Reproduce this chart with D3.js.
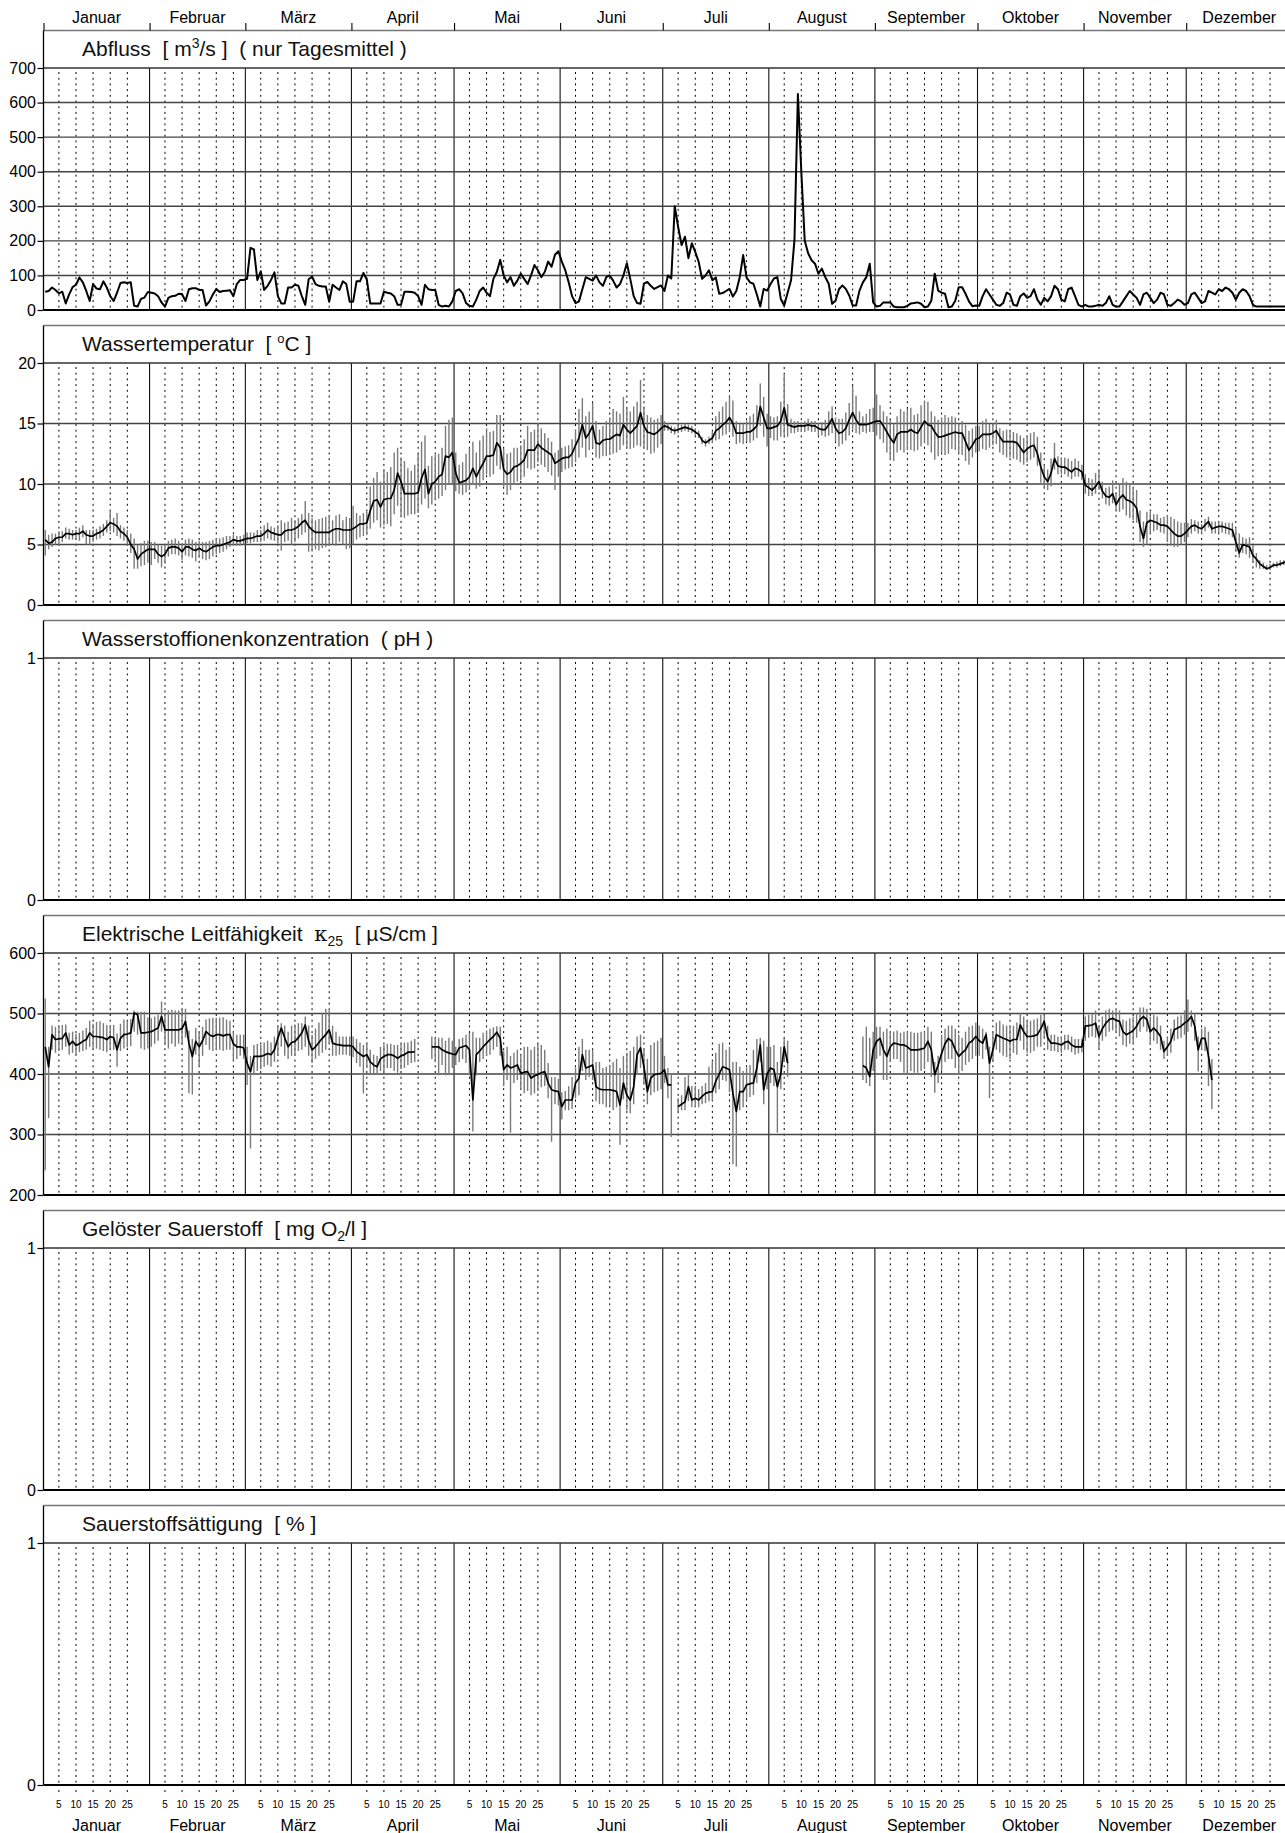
<!DOCTYPE html>
<html lang="de">
<head>
<meta charset="UTF-8">
<title>Gewässergüte Tageswerte</title>
<style>
  body { margin: 0; background: #fff; }
  svg { display: block; font-family: "Liberation Sans", Arial, Helvetica, sans-serif; }
</style>
</head>
<body>
<svg width="1285" height="1833"></svg>
<script src="https://cdn.jsdelivr.net/npm/d3@7/dist/d3.min.js"></script>
<script>

    var months = ["Januar", "Februar", "März", "April", "Mai", "Juni", "Juli",
                  "August", "September", "Oktober", "November", "Dezember"];
    var monthDays = [31, 28, 31, 30, 31, 30, 31, 31, 30, 31, 30, 31];
    var dayTicks = [5, 10, 15, 20, 25];

    var abflussTicks = [0, 100, 200, 300, 400, 500, 600, 700];
    var tempTicks = [0, 5, 10, 15, 20];
    var leitTicks = [200, 300, 400, 500, 600];
    var emptyTicks = [0, 1];

    // Abfluss, Tagesmittel m3/s
    var abfluss = [
        53,55,65,58,48,53,19,45,66,73,94,80,55,26,75,62,60,83,65,40,26,50,78,80,78,80,12,10,32,36,52,
        50,48,40,22,10,35,40,41,47,46,26,60,63,63,58,58,13,25,45,61,52,55,56,57,40,75,87,87,
        90,180,175,87,112,58,70,87,109,40,19,19,65,65,73,70,40,15,89,97,75,70,68,68,24,73,65,58,83,75,24,
        24,83,83,107,88,19,19,19,19,53,50,48,40,15,15,53,53,52,50,40,15,73,60,58,58,15,10,12,10,25,
        55,60,48,20,12,10,30,55,65,50,40,90,110,145,100,80,95,70,85,105,90,75,100,130,115,95,110,140,125,160,170,
        140,115,80,40,20,25,60,95,90,85,100,80,70,95,100,85,65,75,100,135,90,40,20,18,76,81,70,61,66,71,
        55,100,91,300,240,188,212,150,193,168,139,90,100,115,86,94,47,49,55,61,39,55,95,159,94,80,76,45,10,61,56,
        75,91,95,32,13,50,86,203,625,400,200,164,144,134,105,120,95,76,18,27,60,71,61,42,13,13,56,80,95,134,22,
        10,12,22,22,22,10,8,8,8,12,19,20,22,18,8,10,27,105,56,50,47,8,10,27,66,66,47,25,11,13,
        12,40,60,45,30,15,12,20,50,45,15,12,40,48,35,40,60,30,15,35,25,40,70,60,30,25,60,65,40,15,10,
        15,10,10,12,15,12,20,40,15,10,10,25,40,55,45,35,15,45,50,35,20,30,50,45,15,12,20,30,25,15,
        20,45,50,35,20,25,55,50,45,60,55,65,60,50,30,50,60,55,40,15,10,10,10,10,10,10,10,10,10,10,10
    ];

    // Wassertemperatur, Tagesmittel / Minimum / Maximum
    var tempMean = [
        5.4,5.1,5.2,5.5,5.6,5.6,5.9,5.9,5.8,5.9,5.9,6.1,5.8,5.7,5.7,5.9,6.0,6.2,6.5,6.8,6.7,6.5,6.1,5.9,5.6,5.0,4.6,3.8,4.2,4.4,4.6,
        4.6,4.6,4.2,4.0,4.2,4.7,4.8,4.8,4.7,4.4,4.8,4.8,4.6,4.5,4.7,4.5,4.4,4.6,4.8,4.9,4.9,5.0,5.1,5.2,5.4,5.3,5.3,5.4,
        5.5,5.5,5.6,5.7,5.7,5.9,6.2,6.0,5.9,5.8,5.8,6.1,6.2,6.2,6.3,6.5,6.8,7.0,6.5,6.2,6.0,6.0,6.0,6.0,6.0,6.2,6.3,6.3,6.2,6.2,6.2,
        6.3,6.5,6.7,6.7,6.8,7.8,8.6,8.7,8.1,8.7,8.8,8.8,9.5,10.9,10.2,9.2,9.2,9.2,9.2,9.3,10.5,11.2,9.2,10.0,10.2,10.6,10.8,12.3,12.2,12.6,
        10.9,10.1,10.2,10.3,10.6,11.3,10.6,11.2,11.7,12.3,12.3,12.4,13.4,13.0,11.2,10.8,11.0,11.4,11.5,11.7,12.0,12.8,12.8,12.8,13.3,13.0,12.8,12.6,12.4,11.7,11.9,
        12.1,12.2,12.2,12.5,13.2,13.8,14.9,13.8,14.2,14.8,13.4,13.3,13.6,13.7,13.7,13.9,14.1,14.0,14.9,14.5,14.2,14.5,14.8,15.9,14.8,14.3,14.2,14.1,14.3,14.6,
        14.8,14.7,14.5,14.4,14.5,14.6,14.7,14.6,14.5,14.3,14.1,13.6,13.4,13.6,13.8,14.4,14.6,14.9,15.1,15.5,15.0,14.2,14.2,14.2,14.3,14.3,14.5,14.8,16.4,15.5,14.6,
        14.6,14.7,14.8,15.2,16.3,14.9,14.8,14.7,14.8,14.8,14.8,14.9,14.8,14.8,14.6,14.5,14.5,14.9,15.4,14.6,14.2,14.3,14.6,15.3,15.9,15.3,14.9,14.9,14.9,15.0,15.1,
        15.2,15.2,14.8,14.3,13.8,13.4,14.1,14.3,14.3,14.3,14.5,14.3,14.2,14.7,15.2,14.9,14.8,14.3,13.9,13.9,14.0,14.1,14.2,14.3,14.2,14.2,13.5,12.8,13.2,13.7,
        13.8,14.1,14.1,14.1,14.2,14.4,13.9,13.5,13.5,13.5,13.5,13.4,13.0,12.6,12.9,13.1,13.2,12.5,11.4,10.6,10.2,10.9,12.1,11.5,11.4,11.4,11.2,11.0,11.3,11.2,11.0,
        9.9,9.7,9.5,9.8,10.2,9.4,9.0,8.9,9.2,8.3,8.8,9.1,8.7,8.6,8.4,8.0,6.5,5.5,6.8,7.0,6.9,6.8,6.6,6.6,6.5,6.2,5.9,5.7,5.7,5.9,
        6.2,6.5,6.6,6.4,6.3,6.6,6.9,6.3,6.4,6.5,6.5,6.4,6.3,6.2,5.2,4.3,5.0,4.9,4.8,4.1,3.8,3.4,3.2,3.0,3.1,3.3,3.3,3.4,3.5,3.6,3.5
    ];
    var tempMin = [
        4.1,4.6,4.8,5.0,5.0,5.2,5.5,5.4,5.4,5.4,5.3,5.6,5.0,5.0,5.2,5.4,5.5,5.7,6.0,6.1,6.0,5.7,5.5,5.3,5.0,4.3,3.0,3.0,3.2,3.3,3.5,
        3.3,3.8,3.5,3.1,3.4,4.0,4.2,4.2,4.1,3.7,4.1,4.0,3.9,3.6,3.9,3.8,3.7,3.8,4.0,4.2,4.3,4.4,4.6,4.8,4.9,4.9,4.9,5.0,
        5.1,5.1,5.2,5.2,5.2,5.3,5.5,5.4,5.3,5.1,4.5,5.2,5.3,5.0,5.2,5.5,5.8,6.0,4.4,4.5,4.6,4.5,4.7,4.8,4.9,5.0,4.9,5.2,5.0,4.6,4.7,
        5.0,5.4,5.6,5.7,5.8,6.3,6.8,7.0,6.4,6.6,6.7,6.5,7.5,8.2,7.4,7.2,7.4,7.5,7.5,7.6,8.3,8.8,8.0,8.3,8.7,8.8,9.0,9.5,10.0,10.0,
        9.4,9.2,9.1,9.3,9.5,10.0,9.6,9.8,10.3,10.8,10.6,10.8,11.5,11.2,9.8,9.1,9.5,10.0,10.2,10.3,10.6,11.3,11.2,11.3,11.8,11.6,11.4,11.0,10.7,9.5,10.6,
        11.0,11.2,11.3,11.4,11.8,12.2,13.0,12.2,12.8,13.0,12.2,12.1,12.3,12.3,12.4,12.5,12.6,12.8,13.2,13.0,12.9,13.0,13.2,13.1,13.0,12.8,12.5,12.6,13.0,13.3,
        14.4,14.4,14.2,14.1,14.2,14.3,14.4,14.3,14.2,14.0,13.8,13.3,13.1,13.3,13.4,13.6,13.7,14.0,14.1,14.3,13.9,13.3,13.4,13.3,13.5,13.4,13.6,13.8,14.8,13.9,13.1,
        13.8,13.6,13.6,13.9,14.0,13.9,14.2,14.2,14.3,14.3,14.3,14.4,14.3,14.3,14.0,14.0,13.9,14.0,14.2,13.5,13.1,13.3,13.6,14.0,14.5,14.2,14.1,14.3,14.2,14.3,14.3,
        14.0,13.7,13.4,12.6,12.0,11.9,12.6,12.8,12.6,12.8,12.8,12.7,12.8,13.1,13.4,13.2,12.6,12.0,12.3,12.6,12.4,12.5,12.9,12.8,12.5,12.4,11.9,11.6,12.2,12.6,
        12.7,12.9,12.8,13.0,13.2,13.3,12.6,12.4,12.2,12.2,12.1,12.0,11.8,11.6,11.8,12.0,12.2,11.5,10.1,9.7,9.5,9.8,11.2,10.8,10.8,10.8,10.6,10.4,10.6,10.6,10.3,
        9.2,9.0,9.0,9.2,9.5,8.8,8.3,8.2,8.4,7.8,7.7,7.9,7.4,7.2,7.0,6.8,5.2,4.8,5.0,6.0,6.1,6.2,6.0,5.9,5.2,4.9,4.8,4.8,5.0,5.2,
        5.6,5.9,6.1,5.9,5.9,6.1,6.4,5.9,5.9,6.0,6.0,5.9,5.8,5.6,4.4,3.9,4.3,4.2,3.9,3.5,3.1,3.0,3.0,2.9,2.9,3.1,3.1,3.2,3.3,3.4,3.3
    ];
    var tempMax = [
        6.2,5.8,5.9,5.9,6.1,6.1,6.4,6.3,6.2,6.2,6.4,6.6,6.2,6.2,6.2,6.3,6.5,6.7,7.0,7.8,7.2,7.6,6.6,6.4,6.2,5.9,5.5,5.0,5.1,5.3,5.3,
        5.2,5.2,5.0,4.9,5.0,5.3,5.4,5.5,5.3,5.1,5.4,5.5,5.4,5.2,5.3,5.2,5.2,5.3,5.4,5.5,5.5,5.6,5.7,5.7,5.8,5.7,5.7,5.8,
        6.0,6.0,6.0,6.2,6.2,6.6,6.8,6.5,6.4,6.6,7.0,6.8,6.9,7.2,7.0,7.2,7.5,8.6,7.6,7.2,7.0,7.1,7.2,7.3,7.4,7.0,7.4,7.5,7.0,7.3,7.2,
        8.2,7.6,7.4,7.6,7.7,9.8,10.5,11.0,10.2,11.2,11.0,11.4,12.6,13.0,12.2,11.9,11.3,11.1,11.6,12.5,13.5,14.0,11.5,12.3,12.4,12.5,13.0,14.8,15.3,15.5,
        12.6,11.6,11.8,12.5,13.0,13.5,12.6,13.6,14.0,14.6,14.3,14.4,15.7,15.7,12.9,12.5,12.6,13.0,13.0,13.2,13.7,14.8,14.3,14.5,15.0,14.6,14.2,13.8,13.5,12.6,12.8,
        13.0,13.1,13.2,13.7,14.5,16.2,17.1,15.6,16.0,16.7,15.2,14.5,14.8,15.2,15.5,16.2,16.0,15.8,17.2,16.3,16.0,16.4,16.8,18.6,16.4,15.7,15.5,15.3,15.4,15.7,
        15.2,15.0,14.8,14.7,14.8,14.9,15.0,14.9,14.8,14.6,14.4,13.9,13.7,13.9,14.3,15.6,16.0,16.4,16.8,17.2,16.9,15.2,15.0,15.0,15.2,15.6,15.8,16.5,18.3,17.2,15.8,
        15.6,15.5,15.6,16.8,19.0,16.6,15.4,15.2,15.2,15.1,15.2,15.4,15.2,15.2,15.0,15.1,15.3,16.0,16.4,15.5,15.4,15.4,15.9,16.7,18.1,17.3,16.0,15.6,15.8,16.2,16.3,
        17.4,16.5,16.0,15.6,15.3,15.0,15.6,16.2,16.0,16.2,16.3,15.7,15.8,16.5,16.9,16.8,16.0,15.6,15.3,15.5,15.7,15.5,15.6,15.5,15.0,15.2,14.9,14.4,14.6,14.8,
        14.8,15.2,15.4,15.0,15.0,15.3,14.6,14.4,14.5,14.4,14.3,14.2,14.0,13.8,14.0,14.2,14.3,13.9,12.6,11.5,11.2,12.1,13.4,12.3,12.2,12.2,12.1,11.9,12.1,11.9,11.6,
        10.8,10.5,10.4,10.9,11.2,10.2,9.7,9.8,10.3,9.3,10.0,10.5,10.2,10.0,9.7,9.5,7.8,6.9,7.7,7.7,7.5,7.5,7.2,7.3,7.4,7.3,7.1,6.9,6.8,6.8,
        6.8,7.1,7.0,6.9,6.7,7.1,7.3,6.9,6.9,6.9,6.9,6.8,6.8,6.8,6.3,5.9,5.6,5.5,5.6,4.9,4.3,3.7,3.5,3.3,3.4,3.5,3.6,3.7,3.7,3.8,3.7
    ];

    // Elektrische Leitfähigkeit, Tagesmittel / Minimum / Maximum (null = keine Messung)
    var leitMean = [
        445,412,465,457,458,459,468,448,454,447,450,454,457,468,462,462,461,460,457,462,460,440,459,465,466,468,501,498,468,468,469,
        470,473,476,495,473,473,473,473,473,475,487,451,429,454,445,455,470,465,462,465,465,463,465,465,450,445,445,443,
        418,404,429,429,429,431,434,432,440,459,476,460,445,452,454,460,468,481,455,440,445,452,459,465,473,451,449,448,447,447,447,
        445,437,433,429,432,420,415,412,425,429,432,432,430,426,430,432,436,436,437,null,null,null,null,445,445,445,440,437,435,433,
        432,443,445,447,440,357,432,438,445,451,457,462,469,459,407,415,410,412,415,401,403,404,393,397,399,402,404,385,374,372,371,
        346,357,357,357,385,393,432,410,412,415,379,375,374,374,374,373,371,349,385,365,357,379,432,443,412,371,393,399,400,401,
        407,382,382,null,346,350,354,379,357,360,357,363,368,370,371,388,400,412,410,407,368,338,371,371,382,384,385,410,448,374,400,
        410,407,379,400,445,418,null,null,null,null,null,null,null,null,null,null,null,null,null,null,null,null,null,null,null,null,null,414,410,396,440,
        454,459,440,429,445,451,450,448,448,445,440,440,440,441,443,454,440,399,415,434,450,459,454,440,429,435,440,451,455,462,
        455,451,465,418,440,465,462,459,457,454,457,457,481,470,462,462,463,465,475,487,460,451,451,450,448,452,454,448,445,445,445,
        479,480,481,484,462,475,484,490,492,489,487,470,465,468,472,479,490,495,490,470,476,470,462,437,445,454,473,476,479,484,
        488,495,479,440,459,459,430,390,null,null,null,null,null,null,null,null,null,null,null,null,null,null,null,null,null,null,null,null,null,null,null
    ];
    var leitMin = [
        241,327,440,435,438,440,445,432,435,432,436,438,440,445,440,442,440,438,436,440,440,412,438,442,444,446,470,465,442,440,442,
        445,450,455,470,448,442,450,445,450,448,460,368,366,432,412,430,448,440,438,440,440,438,440,440,422,425,430,425,
        382,277,400,405,408,412,415,412,420,430,445,430,425,430,432,438,440,445,430,418,425,430,435,440,450,430,430,432,432,432,430,
        428,418,412,368,410,400,398,400,405,405,410,410,405,402,408,410,415,418,420,null,null,null,null,425,420,398,415,398,400,410,
        415,420,425,418,398,305,398,420,425,430,432,440,445,430,380,390,303,385,390,375,368,372,365,368,372,378,380,360,288,350,348,
        325,340,340,342,360,365,405,390,395,390,355,350,350,345,348,340,345,283,358,340,335,350,400,410,385,350,365,370,372,375,
        385,360,296,null,335,340,340,355,345,345,345,350,352,355,356,368,375,390,388,370,251,247,340,345,358,362,365,385,420,350,375,
        385,380,303,375,420,395,null,null,null,null,null,null,null,null,null,null,null,null,null,null,null,null,null,null,null,null,null,390,385,380,405,
        425,430,390,390,420,425,425,420,402,402,405,402,402,405,408,420,395,369,385,405,420,425,425,410,400,405,415,420,425,430,
        430,425,440,360,420,440,435,430,428,425,435,432,455,440,435,435,438,445,445,460,440,438,438,436,435,440,440,436,432,434,436,
        455,460,462,460,440,455,462,470,472,470,462,448,445,450,452,460,470,478,470,448,455,450,440,425,430,435,455,458,460,465,
        470,478,455,404,440,438,380,342,null,null,null,null,null,null,null,null,null,null,null,null,null,null,null,null,null,null,null,null,null,null,null
    ];
    var leitMax = [
        525,445,480,478,478,481,482,468,470,466,468,472,476,488,483,486,487,484,481,480,481,467,483,490,488,491,505,503,503,503,494,
        492,495,498,520,500,505,506,505,505,508,508,472,458,476,468,478,490,492,493,493,493,494,490,488,470,465,465,465,
        445,430,448,450,448,452,455,452,462,480,484,480,470,480,482,484,484,495,480,465,475,485,500,508,505,480,470,462,462,462,462,
        462,458,452,448,452,440,432,430,445,448,450,450,448,448,450,452,452,455,458,null,null,null,null,462,460,460,460,455,460,455,
        445,458,460,465,468,470,460,460,468,472,475,477,479,478,438,445,430,435,440,432,445,445,440,445,450,448,440,418,395,395,392,
        370,372,380,395,410,445,458,440,440,440,420,420,410,412,415,420,425,410,430,435,438,445,462,465,440,425,448,452,455,460,
        430,410,400,null,360,365,395,400,380,380,375,380,385,412,420,435,450,452,440,445,420,420,412,405,410,415,440,458,460,455,445,
        445,448,420,445,460,455,null,null,null,null,null,null,null,null,null,null,null,null,null,null,null,null,null,null,null,null,null,462,478,460,470,
        478,478,470,475,470,470,472,468,470,470,470,468,468,470,470,478,470,420,430,465,475,480,480,475,465,460,470,478,480,485,
        480,475,470,445,470,485,488,482,480,478,480,485,500,495,488,488,490,492,498,498,480,465,465,462,462,465,465,462,458,458,458,
        495,498,500,505,480,495,505,508,505,505,505,490,488,492,495,500,510,510,508,495,498,495,480,455,462,475,490,495,497,505,
        523,505,500,462,475,478,470,425,null,null,null,null,null,null,null,null,null,null,null,null,null,null,null,null,null,null,null,null,null,null,null
    ];

    var svg = d3.select("svg"),
        left = 43.5,
        dayWidth = 3.4213,
        headerHeight = 37.5,
        plotHeight = 242,
        panelPitch = 295,
        firstBottom = 310;

    var x = d3.scaleLinear().domain([0, 365]).range([left, left + 365 * dayWidth]);
    var xRight = x(365);

    var monthStart = [];
    monthDays.reduce(function(acc, n) { monthStart.push(acc); return acc + n; }, 0);

    var dotDays = [];
    monthStart.forEach(function(s) {
        dayTicks.forEach(function(d) { dotDays.push({day: s + d - 0.5, label: d}); });
    });

    var panels = [
        {title: [{t: "Abfluss  [ m"}, {t: "3", sup: true, size: 14}, {t: "/s ]  ( nur Tagesmittel )"}],
         domain: [0, 700], ticks: abflussTicks, line: abfluss, lineWidth: 2},
        {title: [{t: "Wassertemperatur  [ "}, {t: "o", sup: true, size: 13}, {t: "C ]"}],
         domain: [0, 20], ticks: tempTicks, line: tempMean, lo: tempMin, hi: tempMax, lineWidth: 1.7},
        {title: [{t: "Wasserstoffionenkonzentration  ( pH )"}],
         domain: [0, 1], ticks: emptyTicks},
        {title: [{t: "Elektrische Leitfähigkeit  "}, {t: "κ", greek: true}, {t: "25", sub: true, size: 14}, {t: "  [ µS/cm ]"}],
         domain: [200, 600], ticks: leitTicks, line: leitMean, lo: leitMin, hi: leitMax, lineWidth: 1.7},
        {title: [{t: "Gelöster Sauerstoff  [ mg O"}, {t: "2", sub: true, size: 14}, {t: "/l ]"}],
         domain: [0, 1], ticks: emptyTicks},
        {title: [{t: "Sauerstoffsättigung  [ % ]"}],
         domain: [0, 1], ticks: emptyTicks}
    ];

    panels.forEach(function(p, k) {
        var bottom = firstBottom + k * panelPitch,
            top = bottom - plotHeight,
            boxTop = top - headerHeight;

        var y = d3.scaleLinear().domain(p.domain).range([bottom, top]);
        var g = svg.append("g");

        // header frame
        g.append("line")
            .attr("x1", left).attr("x2", xRight)
            .attr("y1", boxTop).attr("y2", boxTop)
            .attr("stroke", "#777").attr("stroke-width", 1.6);

        // dotted day lines
        g.selectAll(".dot-line")
            .data(dotDays)
            .enter()
            .append("line")
            .attr("x1", function(d) { return x(d.day); })
            .attr("x2", function(d) { return x(d.day); })
            .attr("y1", top + 4)
            .attr("y2", bottom)
            .attr("stroke", "#000")
            .attr("stroke-width", 1)
            .attr("stroke-dasharray", "2,3.7");

        // month separators
        g.selectAll(".month-line")
            .data(monthStart.slice(1))
            .enter()
            .append("line")
            .attr("x1", function(d) { return x(d); })
            .attr("x2", function(d) { return x(d); })
            .attr("y1", top)
            .attr("y2", bottom)
            .attr("stroke", "#111")
            .attr("stroke-width", 1.1);

        // horizontal grid
        g.selectAll(".hgrid")
            .data(p.ticks.slice(1))
            .enter()
            .append("line")
            .attr("x1", left).attr("x2", xRight)
            .attr("y1", function(d) { return y(d); })
            .attr("y2", function(d) { return y(d); })
            .attr("stroke", function(d, i) { return i === p.ticks.length - 2 ? "#333" : "#444"; })
            .attr("stroke-width", 1.4);

        // left frame and bottom axis line
        g.append("line")
            .attr("x1", left).attr("x2", left)
            .attr("y1", boxTop).attr("y2", bottom)
            .attr("stroke", "#000").attr("stroke-width", 1.3);
        g.append("line")
            .attr("x1", left).attr("x2", xRight)
            .attr("y1", bottom).attr("y2", bottom)
            .attr("stroke", "#000").attr("stroke-width", 1.8);

        // y axis
        var axis = g.append("g")
            .attr("transform", "translate(" + left + ",0)")
            .call(d3.axisLeft(y).tickValues(p.ticks).tickSize(6).tickPadding(1.5).tickFormat(d3.format("d")));
        axis.select(".domain").remove();
        axis.selectAll("line").attr("stroke", "#000").attr("stroke-width", 1.2);
        axis.selectAll("text")
            .attr("font-family", "'Liberation Sans', Arial, sans-serif")
            .attr("font-size", 16)
            .attr("fill", "#000");

        // title with sub/superscripts
        var title = g.append("text")
            .attr("x", 82)
            .attr("y", boxTop + 25)
            .attr("font-size", 21)
            .style("white-space", "pre")
            .attr("fill", "#111");
        var pendingDy = 0;
        p.title.forEach(function(part) {
            var ts = title.append("tspan").text(part.t);
            var dy = pendingDy;
            pendingDy = 0;
            if (part.sup) {
                ts.attr("font-size", part.size);
                dy -= 8;
                pendingDy = 8;
            } else if (part.sub) {
                ts.attr("font-size", part.size);
                dy += 5;
                pendingDy = -5;
            } else if (part.greek) {
                ts.attr("font-family", "'DejaVu Serif', serif").attr("font-size", 21);
            }
            if (dy) ts.attr("dy", dy);
        });

        // daily min/max bars
        if (p.lo) {
            var ranges = p.lo.map(function(v, i) { return {i: i, lo: v, hi: p.hi[i]}; })
                .filter(function(d) { return d.lo != null && d.hi != null; });
            g.selectAll(".range")
                .data(ranges)
                .enter()
                .append("line")
                .attr("x1", function(d) { return x(d.i + 0.5); })
                .attr("x2", function(d) { return x(d.i + 0.5); })
                .attr("y1", function(d) { return y(d.lo); })
                .attr("y2", function(d) { return y(d.hi); })
                .attr("stroke", "#7a7a7a")
                .attr("stroke-width", 1.4);
        }

        // daily mean line
        if (p.line) {
            var line = d3.line()
                .defined(function(d) { return d != null; })
                .x(function(d, i) { return x(i + 0.5); })
                .y(function(d) { return y(d); });
            g.append("path")
                .datum(p.line)
                .attr("d", line)
                .attr("fill", "none")
                .attr("stroke", "#000")
                .attr("stroke-width", p.lineWidth)
                .attr("stroke-linejoin", "round");
        }
    });

    // top month axis
    var topAxis = svg.append("g")
        .attr("transform", "translate(0,30.5)")
        .call(d3.axisTop(x).tickValues(monthStart).tickSize(7.5).tickFormat(""));
    topAxis.select(".domain").remove();
    topAxis.selectAll("line").attr("stroke", "#000").attr("stroke-width", 1.1);

    svg.selectAll(".top-month")
        .data(months)
        .enter()
        .append("text")
        .attr("x", function(d, i) { return x(monthStart[i] + monthDays[i] / 2); })
        .attr("y", 23)
        .attr("text-anchor", "middle")
        .attr("font-size", 16)
        .text(function(d) { return d; });

    // bottom day ticks and labels
    var lastBottom = firstBottom + 5 * panelPitch;
    svg.selectAll(".day-dot")
        .data(dotDays)
        .enter()
        .append("line")
        .attr("x1", function(d) { return x(d.day); })
        .attr("x2", function(d) { return x(d.day); })
        .attr("y1", lastBottom + 5)
        .attr("y2", lastBottom + 7)
        .attr("stroke", "#000");

    svg.selectAll(".day-label")
        .data(dotDays)
        .enter()
        .append("text")
        .attr("x", function(d) { return x(d.day); })
        .attr("y", lastBottom + 23)
        .attr("text-anchor", "middle")
        .attr("font-size", 10)
        .text(function(d) { return d.label; });

    svg.selectAll(".bottom-month")
        .data(months)
        .enter()
        .append("text")
        .attr("x", function(d, i) { return x(monthStart[i] + monthDays[i] / 2); })
        .attr("y", lastBottom + 46)
        .attr("text-anchor", "middle")
        .attr("font-size", 16)
        .text(function(d) { return d; });
</script>
</body>
</html>
